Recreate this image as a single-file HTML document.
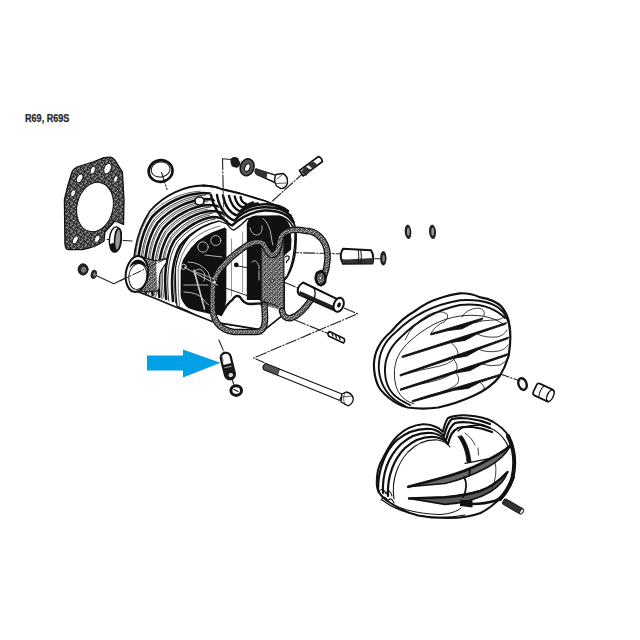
<!DOCTYPE html>
<html><head><meta charset="utf-8">
<style>
html,body{margin:0;padding:0;background:#fff;width:640px;height:640px;overflow:hidden}
svg{position:absolute;left:0;top:0}
.t{font-family:"Liberation Sans",sans-serif;font-weight:bold;font-size:10px;fill:#2a2a2a;stroke:#2a2a2a;stroke-width:0.25px}
</style></head><body>
<svg width="640" height="640" viewBox="0 0 640 640" stroke-linecap="round" stroke-linejoin="round">
<defs>
<pattern id="gk" width="7" height="7" patternUnits="userSpaceOnUse">
<rect width="7" height="7" fill="#333"/>
<path d="M0.6 1.2l1.6 -0.6M3.2 4.2l1.8 -1.2M1 5.8l1.2 0.4M4.6 0.8l1 1M5.6 5.4l0.8 -0.6M2.4 2.8l0.6 0.6" stroke="#c8c8c8" stroke-width="0.9"/>
</pattern>
<pattern id="gk2" width="5" height="5" patternUnits="userSpaceOnUse">
<rect width="5" height="5" fill="#4a4a4a"/>
<path d="M0.5 1l1.5 0.5M3 3.5l1.5 -1M1 4l1 0.3M3.5 0.5l0.8 0.8" stroke="#d8d8d8" stroke-width="0.9"/>
</pattern>
</defs>
<text class="t" x="25" y="122.4" textLength="44.4" lengthAdjust="spacingAndGlyphs">R69, R69S</text>

<!-- dashed lines -->
<g fill="none" stroke="#222" stroke-width="1.1" stroke-dasharray="11 2 1.2 2">
<path d="M222.5 158.8 L223.8 213"/>
<path d="M222.5 158.8 L231 159.5"/>
<path d="M272.5 201 L302.5 173.8"/>
<path d="M161.5 172.5 L167 189.4"/>
<path d="M107 239.5 L132 241"/>
<path d="M95 275 L113.75 283.75 L160 261" stroke-dasharray="none"/>
<path d="M287.5 252.5 L340 253.8"/>
<path d="M285 282.5 L357.5 313.8 L253.6 358 L264 362.5"/>
<path d="M295 320 L328.8 333.8"/>
<path d="M218.9 340 L224 352"/>
<path d="M232 379 L234 385"/>
<path d="M468 362.5 L520 381"/>
<path d="M465 478.8 L500 500"/>
<path d="M350 253.8 L372 257"/>
<path d="M375 258.8 L382 258.8"/>
</g>

<!-- small nut + washer left -->
<ellipse cx="83.1" cy="269.4" rx="5" ry="5.6" fill="#222" stroke="#111" stroke-width="1"/>
<ellipse cx="83.6" cy="269.8" rx="2.6" ry="3" fill="#777"/>
<ellipse cx="93.75" cy="274.4" rx="3" ry="4.6" transform="rotate(15 93.75 274.4)" fill="#222"/>
<ellipse cx="94.5" cy="274.4" rx="1.2" ry="2.2" fill="#888"/>
<!-- head gasket -->
<g id="gasket">
<path d="M64.4 200 L64.9 243 Q65 249.7 69 249.7 L82 249.7 Q96 247 104 241 L105 232 L115 221 L123.5 224.5 L124 200 L122.4 172 L114.7 159.8 Q112 157 110.3 157.1 L103.8 157.7 L92.8 162 L77 167 Q73 169 72 172 L67.7 186 Z" fill="url(#gk)" stroke="#111" stroke-width="1.3"/>
<ellipse cx="95" cy="207" rx="18" ry="25" transform="rotate(13 95 207)" fill="#fff" stroke="#111" stroke-width="1"/>
<ellipse cx="79.7" cy="178.4" rx="2.7" ry="4.6" transform="rotate(25 79.7 178.4)" fill="#fff" stroke="#111" stroke-width="0.8"/>
<ellipse cx="92.8" cy="170.2" rx="2.4" ry="4" transform="rotate(20 92.8 170.2)" fill="#fff" stroke="#111" stroke-width="0.8"/>
<ellipse cx="107.6" cy="168.6" rx="3.4" ry="5.4" transform="rotate(25 107.6 168.6)" fill="#fff" stroke="#111" stroke-width="0.8"/>
<ellipse cx="115.8" cy="179" rx="2" ry="3.5" transform="rotate(20 115.8 179)" fill="#fff" stroke="#111" stroke-width="0.8"/>
<ellipse cx="73.1" cy="193.2" rx="2.3" ry="3.5" transform="rotate(20 73.1 193.2)" fill="#fff" stroke="#111" stroke-width="0.8"/>
<ellipse cx="75.3" cy="239.9" rx="2.4" ry="4.3" transform="rotate(25 75.3 239.9)" fill="#fff" stroke="#111" stroke-width="0.8"/>
<ellipse cx="97.2" cy="238.8" rx="2.4" ry="4" transform="rotate(25 97.2 238.8)" fill="#fff" stroke="#111" stroke-width="0.8"/>
</g>
<!-- small ring near gasket -->
<g>
<ellipse cx="115.4" cy="239.5" rx="6" ry="12.7" transform="rotate(5 115.4 239.5)" fill="#fff" stroke="#111" stroke-width="1.4"/>
<path d="M110 244 Q110 251 115 252 Q119 252 118 246 L113 243 Z" fill="#111"/>
<ellipse cx="117.8" cy="239.5" rx="3.2" ry="11" transform="rotate(5 117.8 239.5)" fill="#999" stroke="#111" stroke-width="1.6"/>
</g>
<!-- o-ring top -->
<g>
<ellipse cx="160.6" cy="171" rx="12" ry="10.8" transform="rotate(-10 160.6 171)" fill="none" stroke="#111" stroke-width="2.6"/>
<ellipse cx="160.6" cy="169.5" rx="9.5" ry="7.5" transform="rotate(-10 160.6 169.5)" fill="none" stroke="#111" stroke-width="1"/>
</g>

<!-- small nut, washer, bolt, stud top -->
<g>
<path d="M231 158.5 Q234 156 238 158 L240.3 163 Q240 167.5 236 167.8 L232 166.5 Q229.5 162 231 158.5 Z" fill="#1a1a1a"/>
<ellipse cx="247.1" cy="167.3" rx="6.8" ry="8.6" transform="rotate(20 247.1 167.3)" fill="#555" stroke="#111" stroke-width="1.5"/>
<ellipse cx="247.4" cy="167.6" rx="2.5" ry="4" transform="rotate(20 247.4 167.6)" fill="#fff" stroke="#111" stroke-width="1"/>
<path d="M256 168.8 L276 175.4 L275 182.5 L256.5 174.4 Q254 171.5 256 168.8 Z" fill="#fff" stroke="#111" stroke-width="1.4"/>
<path d="M256 168.8 L267.5 172.3 L266.5 178.5 L256.5 174.4 Q254 171.5 256 168.8 Z" fill="#333"/>
<path d="M276 174.5 L283 173.5 Q288 176 287.5 183 Q286 188.5 281 188.6 L276.5 186 Q273 180 276 174.5 Z" fill="#fff" stroke="#111" stroke-width="1.4"/>
<path d="M277 179 L282 175 M276.5 183.5 L286 183" stroke="#111" stroke-width="0.7"/>
<path d="M303 176 L299.5 170.5 L318.5 156.5 Q321.5 157.5 322.5 161.5 Z" fill="#fff" stroke="#111" stroke-width="1.6"/>
<path d="M301 172 L306 176 L311 170 L305.5 166.5 Z M308 165 L313 169 L317 164 L312 161 Z" fill="#333"/>
</g>
<!-- cylinder head -->
<g id="head">
<clipPath id="hclip"><path d="M140 292 L132 262 Q132 240 142 225 Q155 205 175 195 Q190 187 203 185.5 Q215 186 221 190 L240 194 L260 200 Q280 206 290 216 Q296 226 296 240 Q296 262 287 277 L284 280 L284 314 L264 330 L214 322 Q200 317 171 305 Q155 298 140 292 Z"/></clipPath>
<path d="M136 291 C131 265 134 235 150 211 C165 194 185 186 203 185.5 Q215 186 221 189 L240 193.5 L265 201 Q284 208 292 218 Q296 226 296 240 Q296 262 287 277 L284 280 L284 314 L264 330 L214 322 Q200 317 171 305 Q155 298 136 291 Z" fill="#fff" stroke="#111" stroke-width="1.8"/>
<g clip-path="url(#hclip)" fill="none" stroke="#111" stroke-width="2.6">
<path d="M139.0 291.0 C136.0 266.0 138.0 237.0 152.0 217.0 C166.0 202.0 185.0 194.0 203.0 193.0 C212.0 193.0 220.0 195.0 226.0 199.0"/>
<path d="M145.8 293.0 C143.0 269.2 144.6 242.0 157.6 222.8 C170.8 208.2 189.0 200.2 205.4 199.0 C213.6 199.0 220.8 200.8 226.2 204.6"/>
<path d="M152.6 295.0 C150.0 272.4 151.2 247.0 163.2 228.6 C175.6 214.4 193.0 206.4 207.8 205.0 C215.2 205.0 221.6 206.6 226.4 210.2"/>
<path d="M159.4 297.0 C157.0 275.6 157.8 252.0 168.8 234.4 C180.4 220.6 197.0 212.6 210.2 211.0 C216.8 211.0 222.4 212.4 226.6 215.8"/>
<path d="M166.2 299.0 C164.0 278.8 164.4 257.0 174.4 240.2 C185.2 226.8 201.0 218.8 212.6 217.0 C218.4 217.0 223.2 218.2 226.8 221.4"/>
<path d="M173.0 301.0 C171.0 282.0 171.0 262.0 180.0 246.0 C190.0 233.0 205.0 225.0 215.0 223.0 C220.0 223.0 224.0 224.0 227.0 227.0"/>
</g>
<g clip-path="url(#hclip)" fill="none" stroke="#222" stroke-width="0.9">
<path d="M141.6 293.0 C138.6 268.0 140.6 239.0 154.6 219.0 C168.6 204.0 187.6 196.0 205.6 195.0"/>
<path d="M148.4 295.0 C145.6 271.2 147.2 244.0 160.2 224.8 C173.4 210.2 191.6 202.2 208.0 201.0"/>
<path d="M155.2 297.0 C152.6 274.4 153.8 249.0 165.8 230.6 C178.2 216.4 195.6 208.4 210.4 207.0"/>
<path d="M162.0 299.0 C159.6 277.6 160.4 254.0 171.4 236.4 C183.0 222.6 199.6 214.6 212.8 213.0"/>
<path d="M168.8 301.0 C166.6 280.8 167.0 259.0 177.0 242.2 C187.8 228.8 203.6 220.8 215.2 219.0"/>
<path d="M175.6 303.0 C173.6 284.0 173.6 264.0 182.6 248.0 C192.6 235.0 207.6 227.0 217.6 225.0"/>
</g>
<g clip-path="url(#hclip)" fill="none" stroke="#444" stroke-width="0.8">
<path d="M136.3 289.2 C133.3 264.2 135.3 235.2 149.3 215.2 C163.3 200.2 182.3 192.2 200.3 191.2"/>
<path d="M143.1 291.2 C140.3 267.4 141.9 240.2 154.9 221.0 C168.1 206.4 186.3 198.4 202.7 197.2"/>
<path d="M149.9 293.2 C147.3 270.6 148.5 245.2 160.5 226.8 C172.9 212.6 190.3 204.6 205.1 203.2"/>
<path d="M156.7 295.2 C154.3 273.8 155.1 250.2 166.1 232.6 C177.7 218.8 194.3 210.8 207.5 209.2"/>
<path d="M163.5 297.2 C161.3 277.0 161.7 255.2 171.7 238.4 C182.5 225.0 198.3 217.0 209.9 215.2"/>
</g>
<!-- right cylinder fins -->
<path d="M210 193 L221 189 L240 193.5 L265 201 Q284 208 292 218 Q297 226 297 232 L233 228 Z" fill="#fff"/>
<g fill="none" stroke="#111" stroke-width="2.4">
<path d="M211 195 C214 210 224 222 232 225.5 C240 218 250 212 264 210.5 C277 210 287 213 293 222"/>
<path d="M217 195 C219 208 227 218 234.5 220.5 C242 212 252 208 264 207.2 C276 207 285 209 291 216"/>
<path d="M223 195.5 C225 206 230 213 237 215.5 C244 208 254 205 264 204.3 C274 204 282 206 288 211"/>
<path d="M229 196 C231 204 234 209 240 211.5 C246 206 252 204 258 203.5"/>
<path d="M234.7 196.5 C236 202 238 206 243 207.5 C247 205 250 203.5 253 202.5"/>
<path d="M240.6 197 C241 201 243 203 246 204"/>
</g>
<path d="M203 185.5 Q215 186 221 189 L240 193.5 L265 201 Q284 208 292 218 Q296 226 296 240" fill="none" stroke="#111" stroke-width="1.8"/>
<ellipse cx="199.5" cy="201" rx="4.5" ry="4" fill="#fff" stroke="#111" stroke-width="1.6"/>
<!-- front face rim -->
<path d="M177 306 Q175 290 175.5 268 Q178 250 189 237 Q202 225 219 221 L227 224 Q231 230 234 230 Q243 224 247 219 Q260 216 280 216.5 Q293 220 295 234 Q295 260 287 276 L284 279 L284 314 L264 330 L214 322 Q195 315 177 306 Z" fill="#fff" stroke="#111" stroke-width="1.3"/>
<path d="M179.5 306 Q177.8 290 178.2 269 Q181 252 191 241 Q203 230 220 226" fill="none" stroke="#555" stroke-width="0.8"/>
<!-- chambers -->
<path d="M224.7 227.5 L226.5 229 L226.3 300 Q225 310 221 315.5 L210 314 L203 312.2 Q190 310 186.25 306.6 Q180.6 300 180.6 295 L180.6 271.4 Q181 262 185 256.4 Q190 248 197.4 241.1 Q204 236 211.6 232.4 Z" fill="#111"/>
<path d="M246.8 300 L246.8 224 Q248 216 256 215.6 L280 215.6 Q287 218 290 226 L291.5 240 L291 249.5 L284 256 L284 300 Z" fill="#111"/>
<!-- divider -->
<path d="M231.5 239 L231.5 296 M242.6 232 L242.6 292" stroke="#888" stroke-width="0.9"/>
<path d="M221 315 Q228 302 232.5 299.7 Q236 294 240 297 Q244 304 250 304 L262 303.4" fill="none" stroke="#111" stroke-width="2.4"/>
<circle cx="236.3" cy="264.9" r="2.4" fill="#111"/>
<!-- swirls -->
<g fill="none" stroke="#ddd" stroke-width="0.8">
<circle cx="203" cy="247" r="5.2"/>
<circle cx="215.8" cy="240.5" r="5"/>
<path d="M188 262 Q200 262 208 272 Q213 283 212 300"/>
<path d="M184 285 L208 285"/>
<path d="M184 292 Q198 292 204 300 Q207 306 215 306"/>
<path d="M196 278 Q192 270 199 269 Q207 271 204 281"/>
<path d="M205 255 L222 257"/>
<path d="M250 228 Q252 236 258 235 Q263 233 262 226"/>
<path d="M263 218.4 Q270 225 271 235 Q272 242 272.8 245"/>
<path d="M252 262 Q256 258 259 266 L259 280"/>
</g>
<circle cx="183.6" cy="266.8" r="2.6" fill="#111" stroke="#ddd" stroke-width="0.9"/>
<!-- port -->
<path d="M139 256 L156 261 Q160 275 157.5 291 L141 292 Z" fill="url(#gk2)" stroke="#111" stroke-width="1.2"/>
<path d="M156 261 L166 258.5 Q168 262 164 266 Q159 272 159 282 Q160 290 157.5 291" fill="#fff" stroke="#111" stroke-width="1.1"/>
<ellipse cx="136.8" cy="274" rx="11" ry="18" transform="rotate(8 136.8 274)" fill="#fff" stroke="#111" stroke-width="2"/>
<ellipse cx="137.8" cy="276.5" rx="9" ry="13" transform="rotate(8 137.8 276.5)" fill="#fff" stroke="#111" stroke-width="1"/>
<path d="M129 269 Q131 260 138 259.5 Q145 260 147 268 Q142 263.5 137 263.8 Q131 264.5 129 269 Z" fill="#111"/>
<path d="M120 281 L166 258.7" fill="none" stroke="#222" stroke-width="1" stroke-dasharray="9 2 1.2 2"/>
</g>
<!-- valve cover gasket -->
<g id="vgasket" fill="none">
<path d="M261 247 L266 251 Q268 256 271 257.5 Q276 257 278 251 L280 244 Q281 240 284 238 L284 311 Q276 308 266 306 L261 306 Z" fill="url(#gk2)"/>
<path d="M261.2 249 L261.2 306 M283.9 240 L283.9 311" stroke="#111" stroke-width="1.1"/>
<g stroke="#111" stroke-width="6.6">
<path d="M263 243.5 C259 241 253 242 247 245.5 C238 251 230 258 225 263.5 C218 270 213.5 279 212.8 288 L212.5 306 C212.5 320 219 330 234 332 L256 332 C263 332 265 327 265 318 L264.5 305"/>
<path d="M263 243.5 C266 247 267 252 270.5 254.5 C274 256 277 253 278.5 248 C279.5 242 280 237 283 234 C288 229.5 296 229 305 230.7 C315 231 321 236 325 244 C329 252 328 266 324 276"/>
<path d="M311.5 299 C305 309 298 316 291 318 C286 319 283 316 282 311"/>
</g>
<g stroke="url(#gk2)" stroke-width="4.2">
<path d="M263 243.5 C259 241 253 242 247 245.5 C238 251 230 258 225 263.5 C218 270 213.5 279 212.8 288 L212.5 306 C212.5 320 219 330 234 332 L256 332 C263 332 265 327 265 318 L264.5 305"/>
<path d="M263 243.5 C266 247 267 252 270.5 254.5 C274 256 277 253 278.5 248 C279.5 242 280 237 283 234 C288 229.5 296 229 305 230.7 C315 231 321 236 325 244 C329 252 328 266 324 276"/>
<path d="M311.5 299 C305 309 298 316 291 318 C286 319 283 316 282 311"/>
</g>
<path d="M321 271 Q327 274 325 282 Q322 287 318 284 Q314 279 317 273 Z" stroke="#111" stroke-width="2.6" fill="url(#gk2)"/>
<circle cx="320.5" cy="278" r="1.6" fill="#fff" stroke="#111" stroke-width="0.7"/>
<circle cx="214.6" cy="282" r="1.8" fill="#fff" stroke="#111" stroke-width="0.9"/>
<circle cx="272.2" cy="281" r="1.4" fill="#fff" stroke="#111" stroke-width="0.9"/>
</g>
<!-- pins / shafts right -->
<g>
<path d="M343 248.8 L371 250.3 Q374.5 256 372.5 263.5 L343 263.8 Q338.5 256 343 248.8 Z" fill="#fff" stroke="#111" stroke-width="2"/>
<path d="M341 259 Q343 263 346 263.5 L372 263.5 Q373.5 261 373.5 258 L346 259.5 Z" fill="#333"/>
<path d="M358.2 249.5 Q359.5 256 358.2 263.5 M360.8 249.7 Q362 256 360.8 263.6" fill="none" stroke="#111" stroke-width="1"/>
<ellipse cx="383.3" cy="258.3" rx="3.2" ry="7.2" fill="#222"/>
<ellipse cx="383.6" cy="258.5" rx="1.2" ry="3.5" fill="#888"/>
<ellipse cx="408" cy="231.8" rx="3.3" ry="7.2" transform="rotate(-5 408 231.8)" fill="#222"/>
<ellipse cx="408.3" cy="231.8" rx="1.3" ry="4" fill="#999"/>
<ellipse cx="432.5" cy="231.8" rx="3.5" ry="7.2" transform="rotate(-5 432.5 231.8)" fill="#222"/>
<ellipse cx="432.7" cy="231.8" rx="1.4" ry="4" fill="#999"/>
<path d="M303 282.5 L337.8 299.4 L335 310.5 L299 294.5 Q295 288 303 282.5 Z" fill="#fff" stroke="#111" stroke-width="2"/>
<path d="M299 294.5 L335 310.5 L336 307 L300 291 Z" fill="#222"/>
<path d="M313.5 287.5 Q317 293 313.5 299.5" fill="none" stroke="#111" stroke-width="1.3"/>
<ellipse cx="338.7" cy="304.8" rx="4.8" ry="7.2" transform="rotate(20 338.7 304.8)" fill="#fff" stroke="#111" stroke-width="2"/>
<ellipse cx="339" cy="305" rx="1.8" ry="2.6" transform="rotate(20 339 305)" fill="#111"/>
<path d="M329.5 331.5 L344 338.5 Q345.5 341 343.5 343 L328.5 336 Q327 333 329.5 331.5 Z" fill="#fff" stroke="#111" stroke-width="1.5"/>
<path d="M332 333.5 L333 336 M335.5 335 L336.5 338 M339 336.5 L340 339.5" stroke="#111" stroke-width="1.2"/>
</g>
<!-- arrow -->
<path d="M147 355.6 L183 355.6 L183 349.4 L220.5 362.7 L183 377.5 L183 370.5 L147 370.5 Z" fill="#02a0e6"/>
<!-- valve guide -->
<g transform="rotate(-14 227.8 365.8)">
<rect x="222.8" y="352.5" width="10" height="27" rx="5" fill="#fff" stroke="#111" stroke-width="2.2"/>
<path d="M222.8 364 L232.8 364 L232.8 375 Q232.8 379.5 227.8 379.5 Q222.8 379.5 222.8 375 Z" fill="#1a1a1a"/>
<path d="M224.5 367 L231 367" stroke="#aaa" stroke-width="1"/>
<ellipse cx="228.5" cy="375.5" rx="2.3" ry="2" fill="#ddd"/>
<path d="M224.5 356 L224.5 360" stroke="#777" stroke-width="1"/>
</g>
<ellipse cx="236.2" cy="390.6" rx="5.3" ry="4.8" fill="none" stroke="#111" stroke-width="3"/>
<path d="M234 389.5 L238 391.5" stroke="#111" stroke-width="1.2"/>
<!-- long bolt -->
<path d="M265.5 363.5 L342 394 L340 400.5 L263.5 369.5 Q262 366 265.5 363.5 Z" fill="#fff" stroke="#111" stroke-width="1.1"/>
<path d="M265.5 363.5 L279.5 369 L277.5 375 L263.5 369.5 Q262 366 265.5 363.5 Z" fill="#555" stroke="#111" stroke-width="0.8"/>
<path d="M342 394 L346 392 Q352 393 353.3 398.5 Q353 404 348 405.8 L341 402 Z" fill="#fff" stroke="#111" stroke-width="1.3"/>
<path d="M345 393 Q342 398 345 405 M343 397 L352 396" fill="none" stroke="#111" stroke-width="0.7"/>
<!-- upper valve cover -->
<g id="ucover" fill="none" stroke="#111">
<path d="M373.9 365.3 C374 350 381 340 391.25 331.5 C399 322 406 316 414.7 311.25 C423 305 430 301 438 298.75 C446 296 453 294 460 293.3 C468 293 475 295 480.5 297.4 C490 299 497 302 501.6 306.75 C507 313 509 320 509.8 327.8 C511 338 510 348 508.6 356 C506 365 503 371 499.2 377 C492 386 484 391 473.5 395.8 C460 402 450 405 438.3 407.5 C428 409 418 409 407.8 407.5 C400 406 394 402 389 398 C383 393 379 389 377.4 384 C375 378 374 372 373.9 365.3 Z" stroke-width="2.2" fill="#fff"/>
<path d="M405 406 C392 400 380 390 378.75 368 C378.5 352 386 340 396 332 C410 318 432 305 460 300.3 C480 299 495 303 503 312 C508 318 510 326 510 334" stroke-width="1.9"/>
<path d="M410 405 C397 399 386 392 385 373 C384 358 391 346 401 337 C416 322 436 310 460 305 C478 303 494 307 505 318" stroke-width="1.9"/>
<path d="M414 404 C402 400 395 392 394.4 375 C394 360 400 350 410 341 C425 328 440 319 460 316 C476 314 492 316 503 324" stroke-width="0.9"/>
<g fill="#111" stroke="#111" stroke-width="0.9">
<path d="M431 333.5 L483 318 L482 319.8 L474 322.7 L462 328.8 L448 330.6 L431 334.9 Z"/>
<path d="M402.5 356 L506.5 322.5 L505.5 324.3 L477 334 L465 340.4 L451 342.6 L402.5 357.6 Z"/>
<path d="M400.5 374.5 L508.8 337 L507.8 338.8 L479 349.3 L467 356 L453 358.5 L400.5 376 Z"/>
<path d="M400.8 388.8 L508.5 353.5 L507.5 355.3 L482 364.2 L470 370.6 L456 372.9 L400.8 390.3 Z"/>
<path d="M412.5 400.5 L499.5 374.5 L498.5 376.3 L480 382.3 L468 388.4 L454 390.3 L412.5 402 Z"/>
</g>
<g stroke-width="0.8">
<path d="M431 333 Q436 325 444 322 Q449 318 447 314 Q440 309 428 315 Q412 324 405 340"/>
<path d="M462 317 Q466 309 478 308 Q486 309 484 316"/>
<path d="M474 323 Q482 320 494 320 Q502 320 505 316"/>
<path d="M477 334 Q485 338 497 337 Q505 335 507 330"/>
<path d="M479 349.5 Q487 353 499 351 Q506 349 508 345"/>
<path d="M482 364 Q490 367 500 365 Q505 362 507 360"/>
<path d="M451 342.6 Q458 348 458 354 Q455 362 440 366 Q420 370 401 375"/>
<path d="M453 358.5 Q458 364 457 369 Q452 377 430 382 Q415 385 401 389"/>
<path d="M456 373 Q460 378 458 383 Q452 390 430 395 Q420 398 413 401"/>
<path d="M480 382.3 Q485 386 484 389"/>
</g>
</g>
<!-- washer + nut right -->
<ellipse cx="522.5" cy="384" rx="4" ry="6" transform="rotate(-20 522.5 384)" fill="none" stroke="#111" stroke-width="2.4"/>
<g transform="rotate(25 543.5 392.5)">
<rect x="534" y="386" width="19" height="13" rx="3" fill="#fff" stroke="#111" stroke-width="1.7"/>
<ellipse cx="551" cy="392.5" rx="3" ry="6" fill="#fff" stroke="#111" stroke-width="1.4"/>
<path d="M541 387 Q539 392.5 541 398" stroke="#111" stroke-width="1" fill="none"/>
</g>

<!-- lower valve cover -->
<g id="lcover" fill="none" stroke="#111">
<path d="M376.75 483 C377 470 379 465 383 458 C388 448 392 441 398 435.5 C406 428 414 425 423 424.25 C429 424 432 425 435.5 426.75 C439 428 441 430 443 431.75 C444 426 446 421 448 418 C455 415 460 415 468 415.5 C478 416 486 418 493 421.75 C500 426 505 430 508 435.5 C512 443 514 450 514.25 458 C514.5 467 513 475 510.5 483 C507 490 503 496 498 500.5 C492 506 487 510 480.5 513 C470 517 458 518 448 518 C437 518 428 517.5 418 515.5 C408 513 398 508 390.5 503 C384 499 380 495 378 490.5 C377 488 376.75 486 376.75 483 Z" stroke-width="2" fill="#fff"/>
<path d="M508 436 C514 448 516 462 512.5 478 C509 488 505 494 500 499" stroke-width="4"/>
<path d="M378 490 C378 468 386 450 397 440 C408 431 420 428 431 429 C438 430 441 433 444 436 C446 428 448 422 452 419 C460 417 475 418 490 424" stroke-width="2.2"/>
<path d="M383 493 C382 472 390 455 401 444 C411 435 422 432 432 433 C439 434 443 437 446 440 C448 432 450 426 455 423 C462 421 476 422 490 428" stroke-width="2.2"/>
<path d="M388 496 C387 476 394 459 405 448 C415 439 425 436 435 437 C441 438 445 440 448 444 C450 436 452 431 458 428 C465 426 478 426 492 432" stroke-width="2.2"/>
<path d="M394 499 C391 480 398 463 408 452 C418 442 428 439 438 440 C444 441 447 443 450 447" stroke-width="1.1"/>
<path d="M378 492 Q383 486 386 494 Q389 487 392 496 M381 500 Q385 494 388 501 Q391 496 394 503" stroke-width="1.1"/>
<path d="M382 500 C395 510 410 515 430 517 C445 518 455 517 465 515" stroke-width="1.2"/>
<path d="M396 506 C410 512 425 514 440 514.5 C450 514 458 511 461 508" stroke-width="1"/>
<path d="M458 431 C463 426 472 425 480 425.5 C492 427 502 433 508 446 C506 452 500 456 492 457.8 C482 460 472 462 465 463.4" stroke-width="1.2"/>
<path d="M458 436.7 C462 442 466 450 467 462 L471 462 C470 452 467 443 462 436 Z" fill="#111" stroke-width="0.8"/>
<path d="M465 433 Q472 438 475 445 M478 448 L478.5 455" stroke-width="0.8"/>
<path d="M408.3 486.8 L445 477 C458 473.5 470 469 480 464 C492 458 502 453 510 446 C506 455 497 462 488 467 C475 474 460 480 445 483.5 Z" fill="#666" stroke="#111" stroke-width="1.6"/>
<path d="M408.3 486.8 L445 477 C458 473.5 470 469 480 464 C492 458 502 453 510 446" stroke-width="2.6"/>
<path d="M409 498.5 L445 497.3 C460 496 470 494 480 491 C492 487 500 480 507.5 472 C505 480 498 487 490 492 C480 498 465 503 445 504.4 Z" fill="#555" stroke="#111" stroke-width="1.6"/>
<path d="M409 498.5 L445 497.3 C460 496 470 494 480 491 C492 487 500 480 507.5 472" stroke-width="2.4"/>
<path d="M460 500 L472.5 500 L472.5 507.5 L460 506 Z" fill="#111" stroke="none"/>
<path d="M513.5 477 C509 490 503 497 496 500.5 C488 503 480 504 472 504" stroke-width="2.6"/>
<path d="M464 477 C467 482 467 490 463 497 M470 470 L469 476" stroke-width="1.8"/>
<path d="M495 462 Q498 475 492 488" stroke-width="0.8"/>
</g>
<!-- stud lower -->
<g transform="rotate(30 513 506.5)">
<rect x="502" y="503.5" width="22" height="6" rx="2" fill="#333" stroke="#111" stroke-width="1"/>
<ellipse cx="523" cy="506.5" rx="1.5" ry="3" fill="#fff" stroke="#111" stroke-width="0.8"/>
</g>
<!-- overlay lines -->
<g fill="none" stroke-width="0.9">
<path d="M223 186 L224 218" stroke="#333" stroke-width="0.9" stroke-dasharray="8 2 1 2"/>
<path d="M184.3 267.2 L217.8 285.2" stroke="#ddd"/>
<path d="M219 285.8 L278 306.3" stroke="#111"/>
<path d="M235.8 265.6 L260.8 270.3" stroke="#111"/>
<path d="M194 270 L204.5 309" stroke="#ccc" stroke-width="1.6"/>
<path d="M196 272 L214 279" stroke="#ccc" stroke-width="0.8"/>
</g>
<path d="M285.5 257 Q287 255 289 256.5 Q290 259 287 261 Q286 262 286.5 262.5" fill="none" stroke="#111" stroke-width="1.2"/>

</svg>
</body></html>
